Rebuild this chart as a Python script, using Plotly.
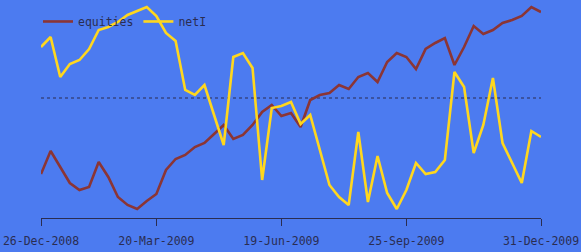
import plotly.graph_objects as go

dates = [
    "26-Dec-2008", "02-Jan-2009", "09-Jan-2009", "16-Jan-2009", "23-Jan-2009", "30-Jan-2009",
    "06-Feb-2009", "13-Feb-2009", "20-Feb-2009", "27-Feb-2009", "06-Mar-2009", "13-Mar-2009",
    "20-Mar-2009", "27-Mar-2009", "03-Apr-2009", "10-Apr-2009", "17-Apr-2009", "24-Apr-2009",
    "01-May-2009", "08-May-2009", "15-May-2009", "22-May-2009", "29-May-2009", "05-Jun-2009",
    "12-Jun-2009", "19-Jun-2009", "26-Jun-2009", "10-Jul-2009", "17-Jul-2009", "24-Jul-2009",
    "31-Jul-2009", "07-Aug-2009", "14-Aug-2009", "21-Aug-2009", "28-Aug-2009", "04-Sep-2009",
    "11-Sep-2009", "18-Sep-2009", "25-Sep-2009", "02-Oct-2009", "09-Oct-2009", "16-Oct-2009",
    "23-Oct-2009", "30-Oct-2009", "06-Nov-2009", "13-Nov-2009", "20-Nov-2009", "27-Nov-2009",
    "04-Dec-2009", "11-Dec-2009", "18-Dec-2009", "24-Dec-2009", "31-Dec-2009",
]

equities = [44, 67, 51, 35, 28, 31, 56, 41, 21, 13, 9, 17, 24, 48, 59, 63, 71, 75, 84, 93,
            79, 83, 93, 106, 113, 102, 105, 91, 118, 123, 125, 133, 129, 141, 145, 136, 156,
            165, 161, 149, 169, 175, 180, 153, 171, 192, 184, 188, 195, 198, 202, 211, 206]

netI = [171, 181, 141, 154, 158, 169, 188, 191, 196, 203, 207, 211, 202, 185, 177, 128, 123,
        133, 103, 73, 161, 165, 150, 38, 110, 112, 116, 94, 103, 68, 33, 21, 13, 86, 16, 62,
        25, 9, 28, 55, 44, 46, 58, 146, 131, 65, 93, 140, 75, 55, 35, 87, 81]

tick_labels = ["26-Dec-2008", "20-Mar-2009", "19-Jun-2009", "25-Sep-2009", "31-Dec-2009"]
reference_level = 120

BG = "#4c7bf0"
INK = "#2a2d52"
FONT = "DejaVu Sans Mono"

fig = go.Figure()
fig.add_trace(go.Scatter(x=dates, y=equities, mode="lines", name="equities",
                         line=dict(color="#8b3535", width=2.6)))
fig.add_trace(go.Scatter(x=dates, y=netI, mode="lines", name="netI",
                         line=dict(color="#ffd71e", width=2.6)))

fig.add_shape(type="line", xref="paper", yref="y", x0=0, x1=1,
              y0=reference_level, y1=reference_level,
              line=dict(color=INK, width=1, dash="dot"), layer="below")

fig.update_layout(
    width=581, height=252,
    margin=dict(l=41, r=40, t=0, b=34),
    paper_bgcolor=BG, plot_bgcolor=BG,
    font=dict(family=FONT, size=11.5, color=INK),
    showlegend=True,
    legend=dict(orientation="h", x=-0.006, y=0.968, xanchor="left", yanchor="top",
                bgcolor="rgba(0,0,0,0)", borderwidth=0, itemwidth=30,
                font=dict(family=FONT, size=11.5, color=INK)),
    xaxis=dict(type="category", range=[0, len(dates) - 1],
               tickmode="array", tickvals=tick_labels, ticktext=tick_labels,
               showline=True, linecolor=INK, linewidth=1,
               ticks="outside", ticklen=7, tickcolor=INK, tickwidth=1,
               ticklabelstandoff=5,
               showgrid=False, zeroline=False, tickangle=0,
               tickfont=dict(family=FONT, size=11.5, color=INK)),
    yaxis=dict(range=[0, 218], visible=False, showgrid=False, zeroline=False),
)

fig.write_html("out.html")
